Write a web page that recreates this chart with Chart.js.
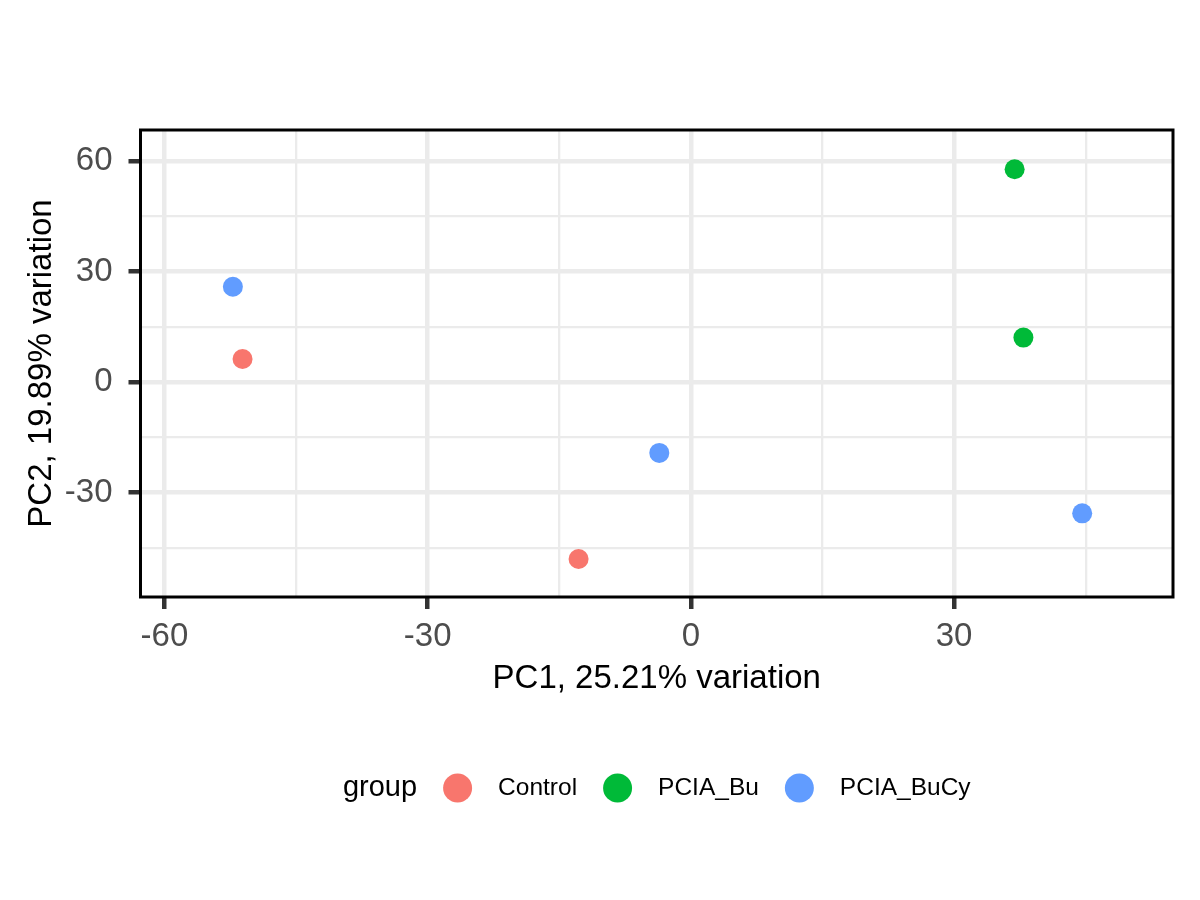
<!DOCTYPE html>
<html>
<head>
<meta charset="utf-8">
<script src="https://cdn.jsdelivr.net/npm/chart.js@4"></script>
<style>
  html, body { margin: 0; padding: 0; background: #fff; }
  #pca { display: block; }
</style>
</head>
<body>
<canvas id="pca" width="1200" height="900"></canvas>
<script>
// PCA scores
const groups = ['Control', 'PCIA_Bu', 'PCIA_BuCy'];
const colours = ['#F8766D', '#00BA38', '#619CFF'];

const control_pc1 = [-51.1, -12.8];
const control_pc2 = [6.3, -48.0];
const bu_pc1 = [36.9, 37.9];
const bu_pc2 = [57.8, 12.1];
const bucy_pc1 = [-52.2, -3.6, 44.6];
const bucy_pc2 = [25.9, -19.2, -35.6];

// major (labelled) + minor grid breaks
const x_breaks = [-60, -45, -30, -15, 0, 15, 30, 45];
const y_breaks = [-45, -30, -15, 0, 15, 30, 45, 60];
const x_labels = [-60, -30, 0, 30];
const y_labels = [-30, 0, 30, 60];

const x_title = 'PC1, 25.21% variation';
const y_title = 'PC2, 19.89% variation';
const legend_title = 'group';

const FONT = '"Liberation Sans", Arial, Helvetica, sans-serif';

function to_points(xs, ys) {
	return xs.map((x, i) => ({x: x, y: ys[i]}));
}

function major(labels) {
	return ctx => ctx.tick && labels.includes(ctx.tick.value);
}

function grid_opts(labels) {
	const is_major = major(labels);
	return {
		color: '#EBEBEB',
		lineWidth: ctx => is_major(ctx) ? 4.5 : 2.3,
		drawTicks: true,
		tickLength: 12,
		tickWidth: ctx => is_major(ctx) ? 4.5 : 0,
		tickColor: ctx => is_major(ctx) ? '#333333' : 'rgba(0,0,0,0)'
	};
}

const panel_border = {
	id: 'panel_border',
	afterDraw(chart) {
		const {ctx, chartArea} = chart;
		ctx.save();
		ctx.strokeStyle = '#000';
		ctx.lineWidth = 3;
		ctx.strokeRect(chartArea.left, chartArea.top,
			chartArea.right - chartArea.left, chartArea.bottom - chartArea.top);
		ctx.restore();
	}
};

const bottom_legend = {
	id: 'bottom_legend',
	afterDraw(chart) {
		const {ctx, chartArea} = chart;
		const y = 788;
		const r = 14.5;
		const gap = 26;
		ctx.save();
		ctx.textBaseline = 'middle';
		ctx.textAlign = 'left';

		ctx.font = '29px ' + FONT;
		const title_w = ctx.measureText(legend_title).width;
		ctx.font = '24.5px ' + FONT;
		const label_w = groups.map(g => ctx.measureText(g).width);
		let total = title_w;
		label_w.forEach(w => { total += gap + 2 * r + gap + w; });

		let x = (chartArea.left + chartArea.right) / 2 - total / 2;
		ctx.fillStyle = '#000';
		ctx.font = '29px ' + FONT;
		ctx.fillText(legend_title, x, y);
		x += title_w;

		groups.forEach((g, i) => {
			x += gap;
			ctx.beginPath();
			ctx.arc(x + r, y, r, 0, Math.PI * 2);
			ctx.fillStyle = colours[i];
			ctx.fill();
			x += 2 * r + gap;
			ctx.fillStyle = '#000';
			ctx.font = '24.5px ' + FONT;
			ctx.fillText(g, x, y);
			x += label_w[i];
		});
		ctx.restore();
	}
};

const config = {
	type: 'scatter',
	data: {
		datasets: [
			{label: groups[0], data: to_points(control_pc1, control_pc2), backgroundColor: colours[0]},
			{label: groups[1], data: to_points(bu_pc1, bu_pc2), backgroundColor: colours[1]},
			{label: groups[2], data: to_points(bucy_pc1, bucy_pc2), backgroundColor: colours[2]}
		].map(d => Object.assign(d, {pointRadius: 10, borderWidth: 0, pointHoverRadius: 10}))
	},
	options: {
		responsive: false,
		animation: false,
		devicePixelRatio: 1,
		layout: {
			padding: {left: 0, right: 27, top: 130, bottom: 143}
		},
		plugins: {
			legend: {display: false},
			tooltip: {enabled: false}
		},
		scales: {
			x: {
				type: 'linear',
				min: -62.73,
				max: 54.95,
				afterBuildTicks: scale => { scale.ticks = x_breaks.map(v => ({value: v})); },
				afterFit: scale => { scale.height = 160; },
				border: {display: false},
				grid: grid_opts(x_labels),
				ticks: {
					autoSkip: false,
					maxRotation: 0,
					padding: 8,
					color: '#4D4D4D',
					font: {family: FONT, size: 33},
					callback: v => x_labels.includes(v) ? String(v) : ''
				},
				title: {
					display: true,
					text: x_title,
					color: '#000',
					font: {family: FONT, size: 33},
					padding: {top: 58, bottom: 58}
				}
			},
			y: {
				type: 'linear',
				min: -58.31,
				max: 68.46,
				afterBuildTicks: scale => { scale.ticks = y_breaks.map(v => ({value: v})); },
				afterFit: scale => { scale.width = 140.5; },
				border: {display: false},
				grid: grid_opts(y_labels),
				ticks: {
					autoSkip: false,
					padding: 16,
					color: '#4D4D4D',
					font: {family: FONT, size: 33},
					callback: v => y_labels.includes(v) ? String(v) : ''
				},
				title: {
					display: true,
					text: y_title,
					color: '#000',
					font: {family: FONT, size: 33},
					padding: {top: 22, bottom: 22}
				}
			}
		}
	},
	plugins: [panel_border, bottom_legend]
};

new Chart(document.getElementById('pca'), config);
</script>
</body>
</html>
